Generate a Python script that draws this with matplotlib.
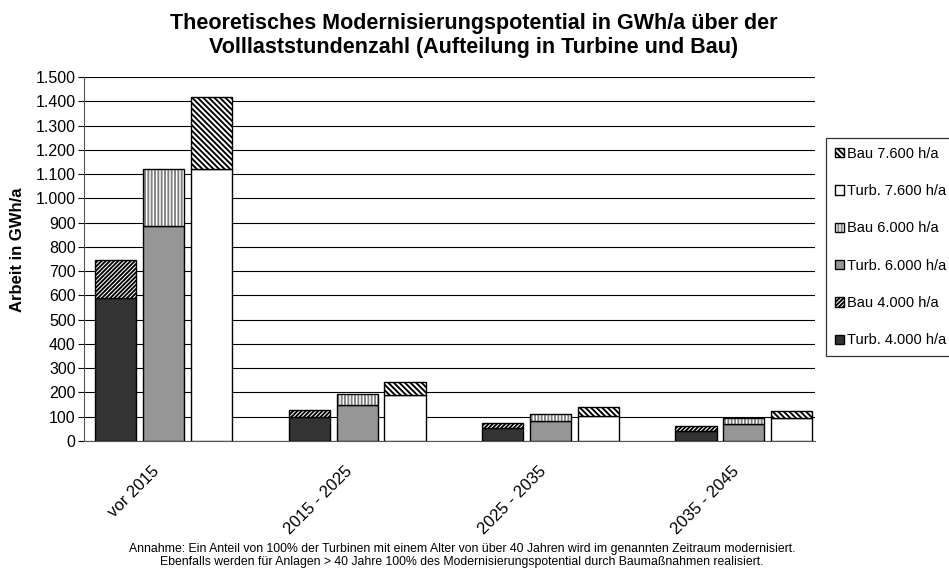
import matplotlib
matplotlib.use("Agg")
import matplotlib.pyplot as plt
import matplotlib.transforms as mtransforms
import numpy as np
from matplotlib.ticker import FuncFormatter, MultipleLocator

plt.rcParams.update({
    "font.family": ["Liberation Sans", "DejaVu Sans"],
    "hatch.linewidth": 1.35,
})

categories = ["vor 2015", "2015 - 2025", "2025 - 2035", "2035 - 2045"]

turb_4000 = [590, 100, 54, 43]
bau_4000 = [157, 28, 19, 20]
turb_6000 = [885, 150, 81, 72]
bau_6000 = [236, 43, 29, 23]
turb_7600 = [1121, 190, 102, 93]
bau_7600 = [297, 53, 37, 29]

fig = plt.figure(figsize=(9.49, 5.73), dpi=100)
ax = fig.add_axes([84 / 949, 1 - 441 / 573, (815 - 84) / 949, (441 - 77) / 573])

x = np.arange(len(categories))
width = 0.212
offset = 0.248

# (turbine, bau, shift, fill, hatch, hatch colour, hours)
series = [
    (turb_4000, bau_4000, -offset, "#333333", "////////", "black", "4.000"),
    (turb_6000, bau_6000, 0.0, "#969696", "|||||", "#808080", "6.000"),
    (turb_7600, bau_7600, offset, "white", "\\\\\\\\\\\\", "black", "7.600"),
]
handles, labels = [], []
for turb, bau, dx, col, hatch, hcol, hrs in series:
    t = ax.bar(x + dx, turb, width, color=col, edgecolor="black", linewidth=1.0, zorder=3)
    b = ax.bar(x + dx, bau, width, bottom=turb, color="white", edgecolor=hcol,
               hatch=hatch, linewidth=0, zorder=3)
    o = ax.bar(x + dx, bau, width, bottom=turb, fill=False, edgecolor="black",
               linewidth=1.0, zorder=4)
    handles += [t, (b, o)]
    labels += [f"Turb. {hrs} h/a", f"Bau {hrs} h/a"]

ax.set_ylim(0, 1500)
ax.set_xlim(-0.411, 3.367)
ax.yaxis.set_major_locator(MultipleLocator(100))
ax.yaxis.set_major_formatter(FuncFormatter(lambda v, p: f"{int(v):,}".replace(",", ".")))
ax.grid(axis="y", color="black", linewidth=0.8, zorder=0)
ax.set_axisbelow(True)
for s in ["top", "right"]:
    ax.spines[s].set_visible(False)
ax.spines["left"].set_color("#555555")
ax.spines["bottom"].set_color("#555555")
ax.tick_params(axis="y", direction="out", length=4, labelsize=11.5, pad=2)
ax.tick_params(axis="x", length=0, labelsize=12, pad=20)
ax.set_xticks(x)
ax.set_xticklabels(categories, rotation=45, ha="right", va="center", rotation_mode="anchor")
shift = mtransforms.ScaledTranslation(-7 / 100, 0, fig.dpi_scale_trans)
for lbl in ax.get_xticklabels():
    lbl.set_transform(lbl.get_transform() + shift)
ax.set_ylabel("Arbeit in GWh/a", fontsize=12, fontweight="bold")
ax.yaxis.set_label_coords(-0.081, 0.525)

leg = fig.legend(handles[::-1], labels[::-1],
                 loc="upper left", bbox_to_anchor=(826 / 949, 1 - 138 / 573),
                 fontsize=10.5, frameon=True, fancybox=False, edgecolor="black",
                 labelspacing=1.6, handlelength=0.6, handleheight=0.6,
                 handletextpad=0.25, borderpad=0.6, borderaxespad=0)
leg.get_frame().set_linewidth(0.9)

fig.text(474 / 949, 1 - 35.5 / 573,
         "Theoretisches Modernisierungspotential in GWh/a über der\n"
         "Volllaststundenzahl (Aufteilung in Turbine und Bau)",
         ha="center", va="center", fontsize=15.5, fontweight="bold", linespacing=1.15)

fig.text(462 / 949, 1 - 555.5 / 573,
         "Annahme: Ein Anteil von 100% der Turbinen mit einem Alter von über 40 Jahren wird im genannten Zeitraum modernisiert.\n"
         "Ebenfalls werden für Anlagen > 40 Jahre 100% des Modernisierungspotential durch Baumaßnahmen realisiert.",
         ha="center", va="center", fontsize=8.8, linespacing=1.2)

fig.savefig("out.png", dpi=100)
